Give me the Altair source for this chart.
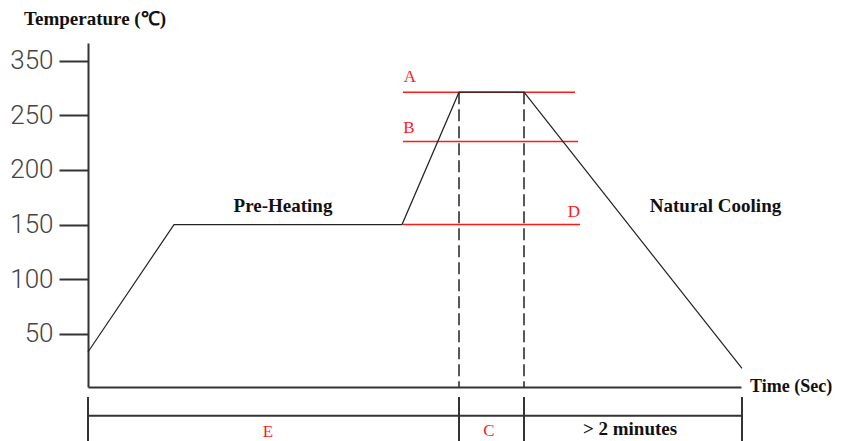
import altair as alt
import pandas as pd

# ---- data ----
profile_time = [0, 86, 314, 371, 436, 654]
profile_temp = [33.5, 150, 150, 271, 271, 18.5]

y_tick_values = [50, 100, 150, 200, 250, 300]
y_tick_labels = ["50", "100", "150", "200", "250", "350"]

limit_names = ["A", "B", "D"]
limit_temps = [271, 226, 150]
limit_start = [315, 315, 315]
limit_end = [487, 490, 492]
limit_label_time = [322, 321, 486]
limit_label_temp = [280, 233.6, 156.7]

peak_times = [371, 436]
phase_bounds = [0, 371, 436, 654]
phase_names = ["E", "C", "> 2 minutes"]
phase_label_time = [180, 401, 542]

# ---- scales and shared axes ----
xs = alt.Scale(domain=[0, 653], nice=False, zero=False)
ys = alt.Scale(domain=[1.5, 316], nice=False, zero=False)
AX = "#333333"
RED = "#ff1a1a"
SERIF = "Liberation Serif"

label_expr = "".join(
    f"datum.value == {v} ? '{l}' : " for v, l in zip(y_tick_values, y_tick_labels)
) + "datum.label"

x_axis = alt.Axis(ticks=False, labels=False, title=None, grid=False,
                  domainColor=AX, domainWidth=2)
y_axis = alt.Axis(values=y_tick_values, labelExpr=label_expr, tickSize=29,
                  tickWidth=2, tickColor=AX, domainColor=AX, domainWidth=2,
                  labelFont="Roboto", labelFontWeight=300, labelFontSize=26,
                  labelColor="#444444", labelPadding=6, grid=False, title=None)


def X(field):
    return alt.X(field, type="quantitative", scale=xs, axis=x_axis)


def Y(field):
    return alt.Y(field, type="quantitative", scale=ys, axis=y_axis)


profile = pd.DataFrame({"t": profile_time, "v": profile_temp})
base = alt.Chart(profile).mark_line(color="#222222", strokeWidth=1.2, clip=False).encode(
    x=X("t"), y=Y("v"),
)

# red limit lines
limits = pd.DataFrame({"name": limit_names, "v": limit_temps,
                       "t0": limit_start, "t1": limit_end,
                       "lt": limit_label_time, "lv": limit_label_temp})
limit_rules = alt.Chart(limits).mark_rule(color=RED, strokeWidth=1.5, clip=False).encode(
    x=X("t0"), x2="t1:Q", y=Y("v"),
)
limit_text = alt.Chart(limits).mark_text(
    color=RED, font=SERIF, fontSize=17, baseline="alphabetic", clip=False
).encode(x=X("lt"), y=Y("lv"), text="name:N")

# dashed verticals at the peak
peaks = pd.DataFrame({"t": peak_times, "top": [limit_temps[0]] * 2, "bot": [1.5] * 2})
dashed = alt.Chart(peaks).mark_rule(
    color="#222222", strokeWidth=1.5, strokeDash=[12, 5], clip=False
).encode(x=X("t"), y=Y("top"), y2="bot:Q")

# bottom bracket
bracket_h = pd.DataFrame({"t0": [phase_bounds[0]], "t1": [phase_bounds[-1]], "v": [-24.8]})
bracket_line = alt.Chart(bracket_h).mark_rule(color=AX, strokeWidth=2, clip=False).encode(
    x=X("t0"), x2="t1:Q", y=Y("v"),
)
bracket_v = pd.DataFrame({"t": phase_bounds, "v0": [-7.7] * 4, "v1": [-48.0] * 4})
bracket_ticks = alt.Chart(bracket_v).mark_rule(color=AX, strokeWidth=2, clip=False).encode(
    x=X("t"), y=Y("v0"), y2="v1:Q",
)

phase_df = pd.DataFrame({"name": phase_names, "t": phase_label_time,
                         "v": [-44.3, -43.4, -42.5]})
phase_red = alt.Chart(phase_df.iloc[:2]).mark_text(
    color=RED, font=SERIF, fontSize=17, baseline="alphabetic", clip=False
).encode(x=X("t"), y=Y("v"), text="name:N")
phase_black = alt.Chart(phase_df.iloc[2:]).mark_text(
    color="#111111", font=SERIF, fontSize=19, fontWeight="bold",
    baseline="alphabetic", clip=False
).encode(x=X("t"), y=Y("v"), text="name:N")

# bold black annotations
notes = pd.DataFrame({
    "text": ["Temperature (℃)", "Pre-Heating", "Natural Cooling"],
    "t": [7, 195, 627.5],
    "v": [332, 161.6, 161.6],
})
note_text = alt.Chart(notes).mark_text(
    color="#111111", font=SERIF, fontSize=19, fontWeight="bold",
    baseline="alphabetic", clip=False
).encode(x=X("t"), y=Y("v"), text="text:N")
time_note = alt.Chart(pd.DataFrame({"text": ["Time (Sec)"], "t": [662], "v": [-3.1]})).mark_text(
    color="#111111", font=SERIF, fontSize=18, fontWeight="bold",
    baseline="alphabetic", align="left", clip=False
).encode(x=X("t"), y=Y("v"), text="text:N")

chart = alt.layer(
    limit_rules, dashed, base, limit_text, bracket_line, bracket_ticks,
    phase_red, phase_black, note_text, time_note,
).properties(
    width=653, height=344,
    padding={"left": 80, "top": 35, "right": 92, "bottom": 60},
    autosize=alt.AutoSizeParams(type="none"),
    background="white",
).configure_view(stroke=None)

chart.save("out.html", embed_options={"renderer": "svg", "actions": False})
